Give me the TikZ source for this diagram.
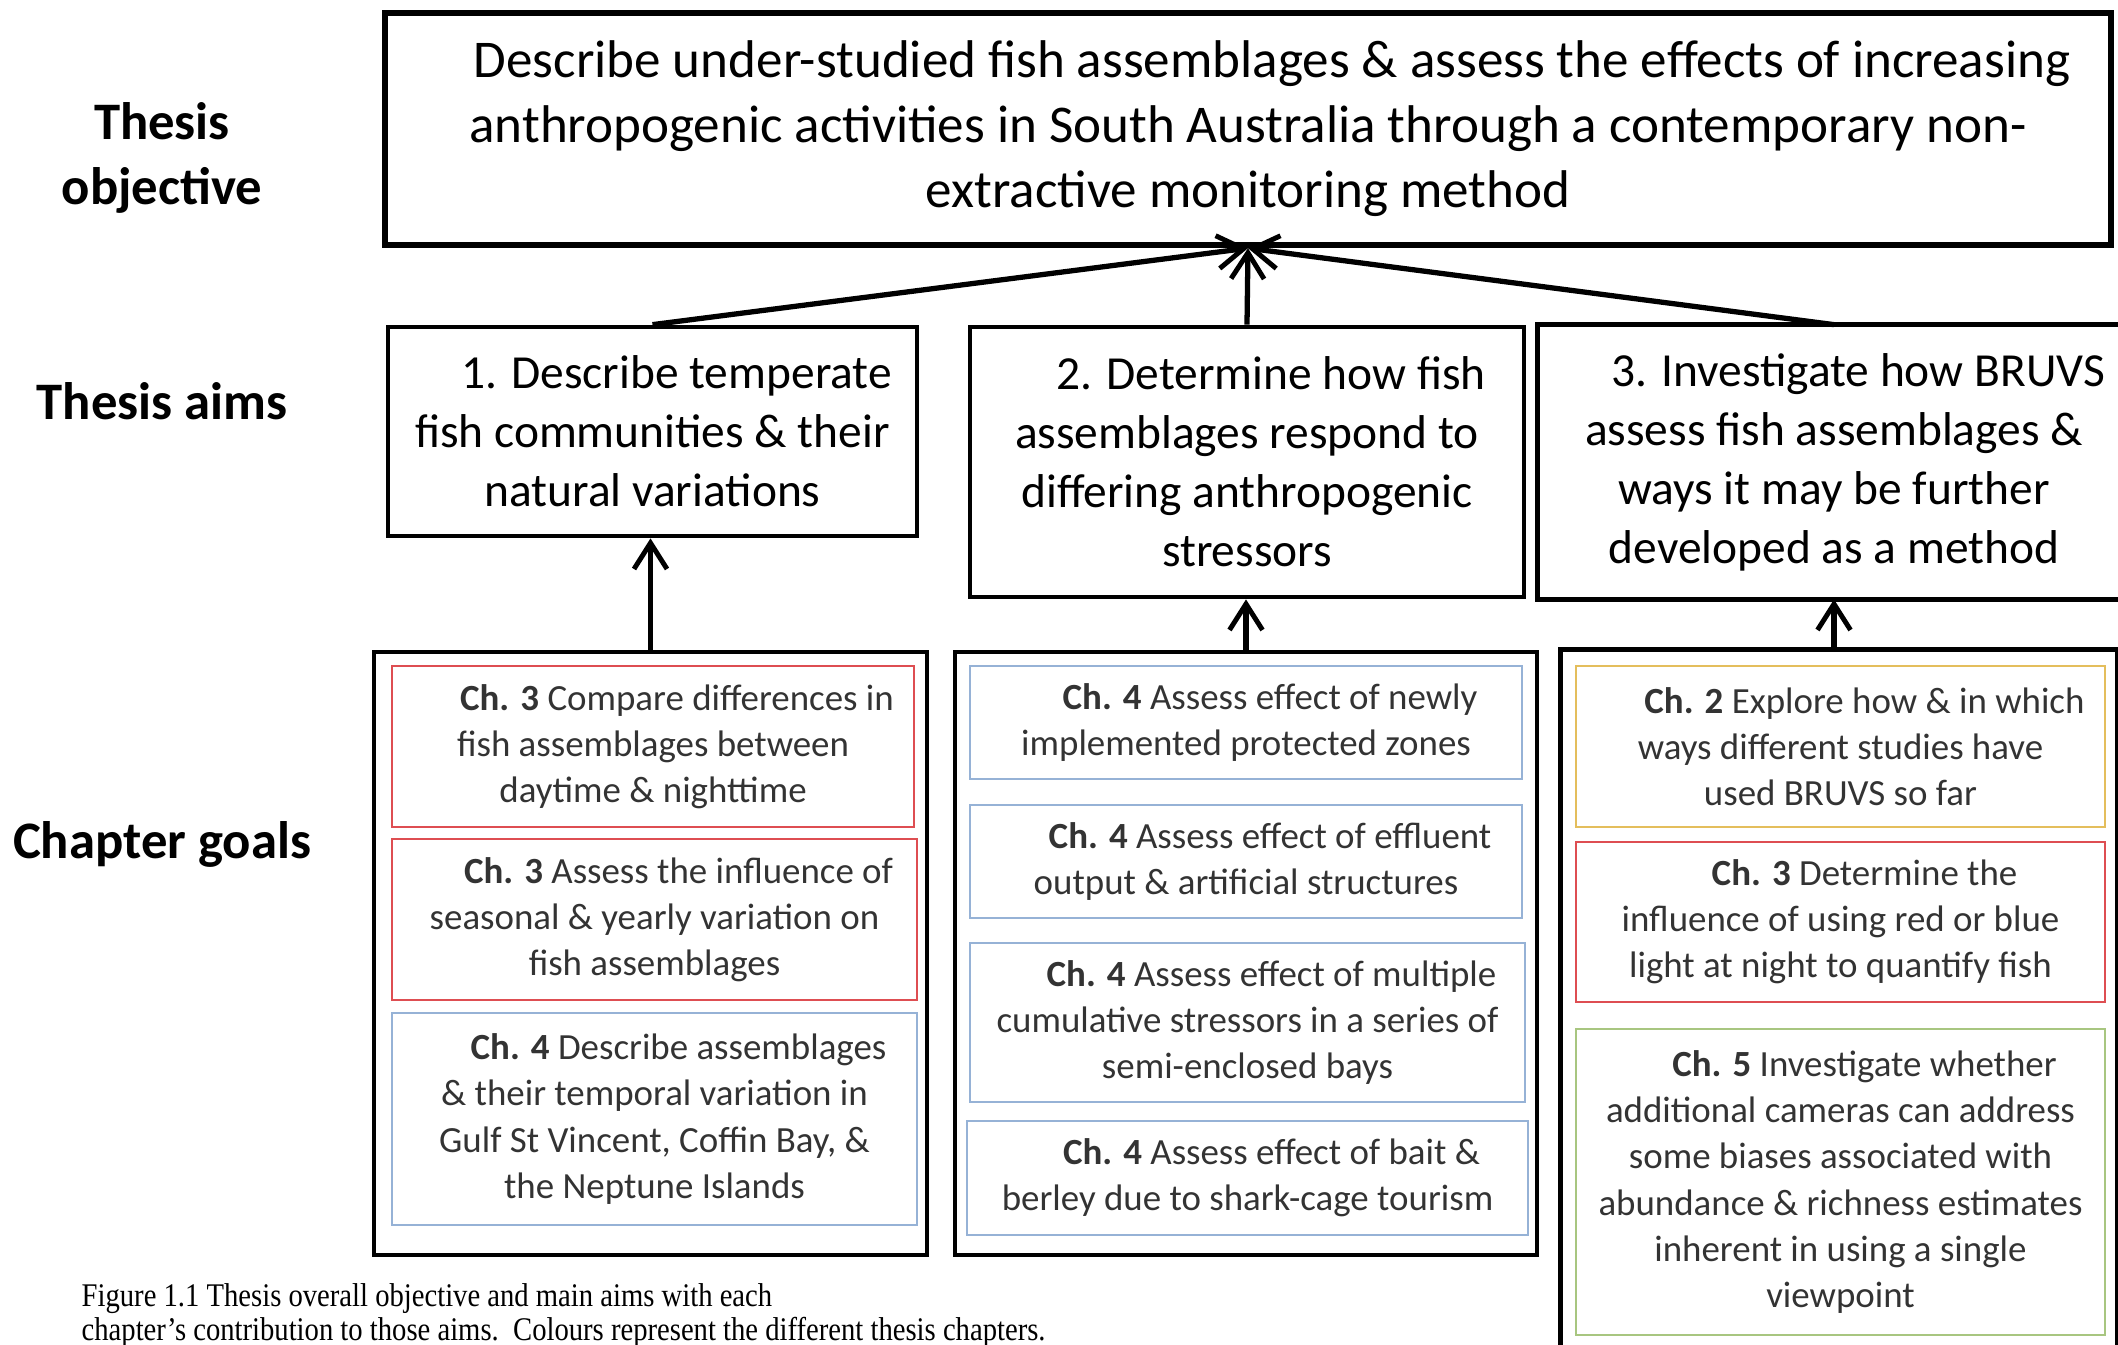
\documentclass[tikz,border=0pt]{standalone}
\usepackage{fontspec}
\setmainfont{Carlito}
\newfontfamily\capfont{Liberation Serif}
\usetikzlibrary{arrows.meta}
\definecolor{chred}{RGB}{222,78,82}
\definecolor{chblue}{RGB}{150,178,214}
\definecolor{chgold}{RGB}{228,190,92}
\definecolor{chgreen}{RGB}{168,198,128}
\newcommand\indfirst{\hspace*{0.48cm}}
\tikzset{
 objbox/.style={draw, line width=1.8pt, align=center, inner sep=0pt, font=\fontsize{15.1pt}{18.5pt}\selectfont},
 aimbox/.style={line width=1.35pt, align=center, inner sep=0pt, font=\fontsize{13.5pt}{16.8pt}\selectfont},
 grpbox/.style={line width=1.35pt, inner sep=0pt},
 chbox/.style={draw, line width=0.6pt, align=center, inner sep=0pt, text=black!80, font=\fontsize{10.5pt}{13.1pt}\selectfont},
 rowlabel/.style={align=center, font=\bfseries\fontsize{15pt}{18.5pt}\selectfont},
 arr/.style={-{Straight Barb[length=2.6mm,width=3.3mm,line width=1.4pt]}, line width=1.5pt},
 captext/.style={inner sep=0pt, anchor=north west, font=\capfont\fontsize{9.4pt}{8.9pt}\selectfont},
}
\begin{document}
\begin{tikzpicture}
\useasboundingbox (0,0) rectangle (21.18,-13.44);
\coordinate (R) at (21.18,0);
\coordinate (B) at (0,-13.44);

% row labels
\node[rowlabel] (lobj) at (1.62,-1.58) {Thesis\\objective};
\node[rowlabel] (laim) at (1.62,-4.01) {Thesis aims};
\node[rowlabel] (lch) at (1.62,-8.44) {Chapter goals};

% objective
\node[objbox, minimum width=17.26cm, minimum height=2.32cm] (obj) at (12.48,-1.29)
 {\indfirst Describe under-studied fish assemblages \& assess the effects of increasing\\
  anthropogenic activities in South Australia through a contemporary non-\\
  extractive monitoring method};

% aims
\node[aimbox, draw, minimum width=5.29cm, minimum height=2.09cm] (aim1) at (6.525,-4.315)
 {\indfirst 1. Describe temperate\\ fish communities \& their\\ natural variations};
\node[aimbox, draw, minimum width=5.54cm, minimum height=2.70cm] (aim2) at (12.47,-4.62)
 {\indfirst 2. Determine how fish\\ assemblages respond to\\ differing anthropogenic\\ stressors};
\node[aimbox, minimum width=5.88cm, minimum height=2.70cm] (aim3) at (18.34,-4.62)
 {\indfirst 3. Investigate how BRUVS\\ assess fish assemblages \&\\ ways it may be further\\ developed as a method};
\draw[line width=1.35pt] (aim3.north west -| R) -- (aim3.north west) -- (aim3.south west) -- (aim3.south west -| R);

% chapter groups
\node[grpbox, draw, minimum width=5.53cm, minimum height=6.03cm] (g1) at (6.505,-9.535) {};
\node[grpbox, draw, minimum width=5.82cm, minimum height=6.03cm] (g2) at (12.46,-9.535) {};
\node[grpbox, minimum width=5.52cm, minimum height=6.92cm] (g3) at (18.39,-9.98) {};
\draw[line width=1.35pt] (g3.south west) -- (g3.north west) -- (g3.north east) -- (g3.south east);

% chapter boxes group 1
\node[chbox, draw=chred, minimum width=5.22cm, minimum height=1.61cm] (c1a) at (6.53,-7.465)
 {\indfirst\textbf{Ch. 3} Compare differences in\\ fish assemblages between\\ daytime \& nighttime};
\node[chbox, draw=chred, minimum width=5.25cm, minimum height=1.61cm] (c1b) at (6.545,-9.195)
 {\indfirst\textbf{Ch. 3} Assess the influence of\\ seasonal \& yearly variation on\\ fish assemblages};
\node[chbox, draw=chblue, minimum width=5.25cm, minimum height=2.12cm] (c1c) at (6.545,-11.19)
 {\indfirst\textbf{Ch. 4} Describe assemblages\\ \& their temporal variation in\\ Gulf St Vincent, Coffin Bay, \&\\ the Neptune Islands};

% chapter boxes group 2
\node[chbox, draw=chblue, minimum width=5.52cm, minimum height=1.13cm] (c2a) at (12.46,-7.225)
 {\indfirst\textbf{Ch. 4} Assess effect of newly\\ implemented protected zones};
\node[chbox, draw=chblue, minimum width=5.52cm, minimum height=1.13cm] (c2b) at (12.46,-8.615)
 {\indfirst\textbf{Ch. 4} Assess effect of effluent\\ output \& artificial structures};
\node[chbox, draw=chblue, minimum width=5.55cm, minimum height=1.59cm] (c2c) at (12.475,-10.225)
 {\indfirst\textbf{Ch. 4} Assess effect of multiple\\ cumulative stressors in a series of\\ semi-enclosed bays};
\node[chbox, draw=chblue, minimum width=5.61cm, minimum height=1.14cm] (c2d) at (12.475,-11.78)
 {\indfirst\textbf{Ch. 4} Assess effect of bait \&\\ berley due to shark-cage tourism};

% chapter boxes group 3
\node[chbox, draw=chgold, minimum width=5.29cm, minimum height=1.61cm] (c3a) at (18.405,-7.465)
 {\indfirst\textbf{Ch. 2} Explore how \& in which\\ ways different studies have\\ used BRUVS so far};
\node[chbox, draw=chred, minimum width=5.29cm, minimum height=1.60cm] (c3b) at (18.405,-9.22)
 {\indfirst\textbf{Ch. 3} Determine the\\ influence of using red or blue\\ light at night to quantify fish};
\node[chbox, draw=chgreen, minimum width=5.29cm, minimum height=3.06cm] (c3c) at (18.405,-11.82)
 {\indfirst\textbf{Ch. 5} Investigate whether\\ additional cameras can address\\ some biases associated with\\ abundance \& richness estimates\\ inherent in using a single\\ viewpoint};

% arrows
\draw[arr] (aim1.north) -- (obj.south);
\draw[arr] (aim2.north) -- (obj.south);
\draw[arr] (aim3.north) -- (obj.south);
\draw[arr] (g1.north) -- (g1.north |- aim1.south);
\draw[arr] (g2.north) -- (g2.north |- aim2.south);
\draw[arr] (aim3.south |- g3.north) -- (aim3.south);

% caption
\node[captext] (cap) at (0.81,-12.83)
 {\scalebox{0.867}[1]{\vbox{\baselineskip=8.6pt
   \hbox{Figure 1.1 Thesis overall objective and main aims with each}
   \hbox{chapter’s contribution to those aims.\ \ Colours represent the different thesis chapters.}}}};
\end{tikzpicture}
\end{document}
